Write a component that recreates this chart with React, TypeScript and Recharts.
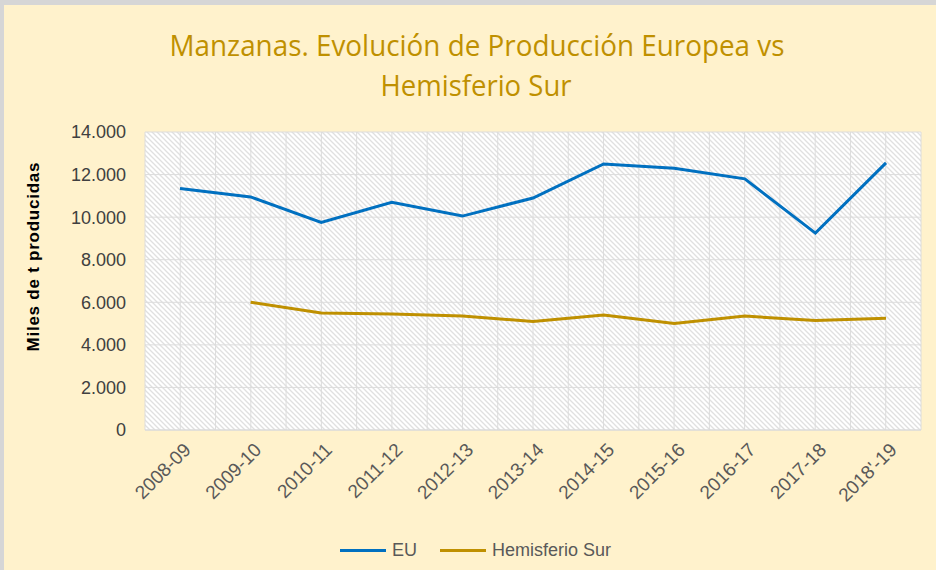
import { LineChart, Line, XAxis, YAxis, CartesianGrid, Legend } from 'recharts';

const seasons = [
  '2008-09', '2009-10', '2010-11', '2011-12', '2012-13', '2013-14',
  '2014-15', '2015-16', '2016-17', '2017-18', "2018'-19",
];
const euValues = [11350, 10950, 9750, 10700, 10050, 10900, 12500, 12300, 11800, 9250, 12550];
const surValues = [null, 6000, 5500, 5450, 5350, 5100, 5400, 5000, 5350, 5150, 5250];
const yTicks = [0, 2000, 4000, 6000, 8000, 10000, 12000, 14000];

const data = seasons.map((season, i) => ({
  season,
  eu: euValues[i],
  sur: surValues[i],
}));

const fmt = (v: number) => v.toLocaleString('de-DE');

const SeasonTick = ({ x, y, payload }: any) => (
  <g transform={`translate(${x + 12},${y + 13})`}>
    <text
      transform="rotate(-45)"
      textAnchor="end"
      fill="#595959"
      fontSize={19}
      fontFamily="'Liberation Sans', Arial, sans-serif"
    >
      {payload.value}
    </text>
  </g>
);

const LegendContent = ({ payload }: any) => (
  <div style={{ height: 30, position: 'relative' }}>
    <div style={{ position: 'absolute', left: 340, top: 0, display: 'flex', alignItems: 'center', gap: 23 }}>
      {payload.map((item: any) => (
        <div key={item.value} style={{ display: 'flex', alignItems: 'center', gap: 6 }}>
          <span style={{ width: 46, height: 3, background: item.color, display: 'inline-block' }} />
          <span style={{ fontSize: 18, color: '#595959', fontFamily: "'Liberation Sans', Arial, sans-serif" }}>
            {item.value}
          </span>
        </div>
      ))}
    </div>
  </div>
);

export default function App() {
  return (
    <div style={{ position: 'fixed', left: 0, top: 0, width: 936, height: 570, background: '#d6d6d6' }}>
      <svg width={0} height={0} style={{ position: 'absolute' }}>
        <defs>
          <pattern id="hatch" width={5} height={5} patternUnits="userSpaceOnUse">
            <rect width={5} height={5} fill="#ffffff" />
            <path d="M0,0 L5,5 M-1,4 L1,6 M4,-1 L6,1" stroke="#e0e0e0" strokeWidth={1.3} />
          </pattern>
        </defs>
      </svg>
      <div style={{ position: 'absolute', left: 4, top: 5, width: 932, height: 565, background: '#FFF2CC' }} />

      <svg width={936} height={570} style={{ position: 'absolute', left: 0, top: 0 }}>
        <text
          x={477}
          y={56}
          textAnchor="middle"
          fill="#BF9000"
          fontSize={30}
          fontFamily="'Liberation Sans Narrow', 'Open Sans', sans-serif"
          textLength={615}
          lengthAdjust="spacingAndGlyphs"
        >
          Manzanas. Evolución de Producción Europea vs
        </text>
        <text
          x={476}
          y={96}
          textAnchor="middle"
          fill="#BF9000"
          fontSize={30}
          fontFamily="'Liberation Sans Narrow', 'Open Sans', sans-serif"
          textLength={191}
          lengthAdjust="spacingAndGlyphs"
        >
          Hemisferio Sur
        </text>
        <text
          transform="translate(39,257) rotate(-90)"
          textAnchor="middle"
          fill="#000000"
          fontSize={17}
          fontWeight="bold"
          fontFamily="'Liberation Sans', Arial, sans-serif"
          textLength={189}
        >
          Miles de t producidas
        </text>
      </svg>

      <div style={{ position: 'absolute', left: 0, top: 0 }}>
        <LineChart width={936} height={570} data={data} margin={{ top: 132, right: 15, bottom: 0, left: 0 }}>
          <CartesianGrid
            stroke="#dcdcdc"
            fill="url(#hatch)"
            fillOpacity={1}
            verticalCoordinatesGenerator={({ offset }: any) =>
              Array.from({ length: seasons.length * 2 + 1 }, (_, i) => offset.left + (offset.width * i) / (seasons.length * 2))
            }
          />
          <XAxis
            dataKey="season"
            interval={0}
            height={110}
            padding={{ left: 35, right: 35 }}
            tickLine={false}
            axisLine={{ stroke: '#d9d9d9' }}
            tick={<SeasonTick />}
          />
          <YAxis
            width={145}
            domain={[0, 14000]}
            ticks={yTicks}
            tickFormatter={fmt}
            axisLine={false}
            tickLine={false}
            tickMargin={13}
            tick={{ fill: '#404040', fontSize: 18, fontFamily: "'Liberation Sans', Arial, sans-serif" }}
          />
          <Legend height={30} content={<LegendContent />} />
          <Line
            name="EU"
            dataKey="eu"
            stroke="#0070C0"
            strokeWidth={3}
            dot={false}
            isAnimationActive={false}
          />
          <Line
            name="Hemisferio Sur"
            dataKey="sur"
            stroke="#BF9000"
            strokeWidth={3}
            dot={false}
            isAnimationActive={false}
          />
        </LineChart>
      </div>
    </div>
  );
}
